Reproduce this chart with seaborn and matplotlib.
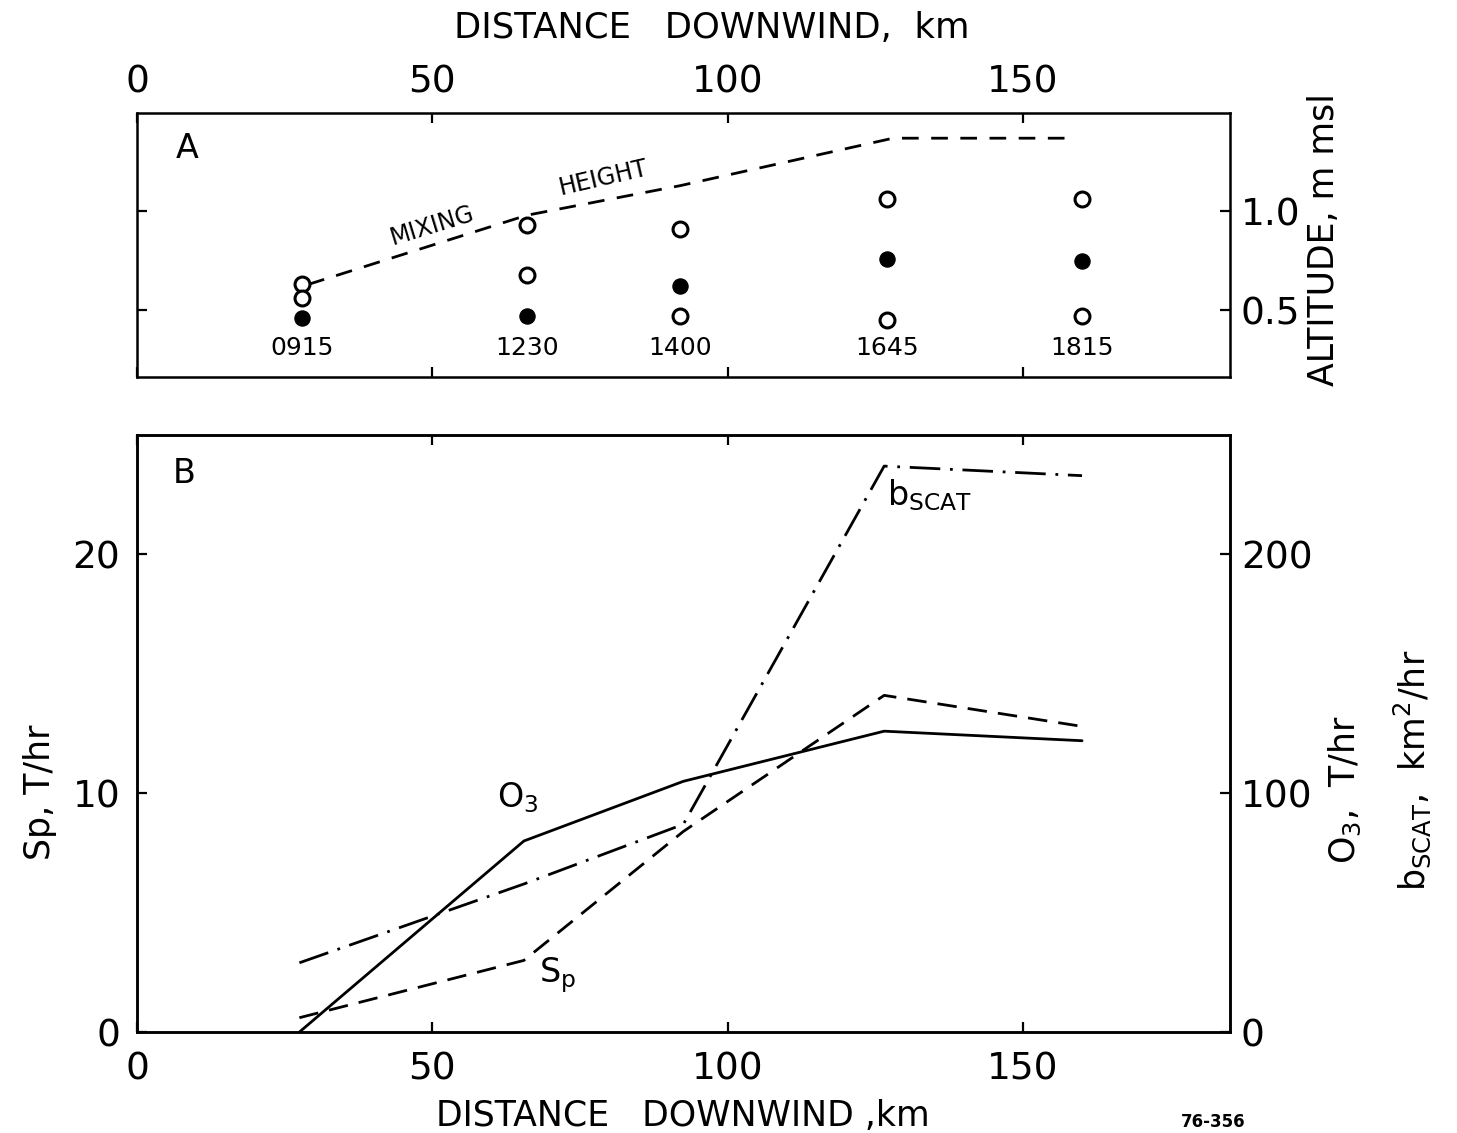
import numpy as np
import pandas as pd
import matplotlib
matplotlib.use("Agg")
import matplotlib.pyplot as plt
import seaborn as sns

# panel A: aircraft sampling flights
flight_times = ["0915", "1230", "1400", "1645", "1815"]
flight_km = [28, 66, 92, 127, 160]
open_upper = [0.63, 0.93, 0.91, 1.06, 1.06]
open_lower = [0.56, 0.68, 0.47, 0.45, 0.47]
filled_alt = [0.46, 0.47, 0.62, 0.76, 0.75]

mix_km = [29, 66, 92, 128, 158]
mix_alt = [0.63, 0.98, 1.13, 1.37, 1.37]

# panel B: fluxes downwind
dist_km = [27.5, 65.5, 92.5, 126.5, 160]
sp = [0.6, 3.0, 8.4, 14.1, 12.8]        # T/hr, left axis
o3 = [0, 80, 105, 126, 122]             # T/hr, right axis
bscat = [29, 62, 87, 237, 233]          # km2/hr, right axis

sns.set_style("ticks")
plt.rcParams['font.family'] = ['DejaVu Sans']
plt.rcParams['lines.scale_dashes'] = False
plt.rcParams['axes.linewidth'] = 1.8
plt.rcParams['xtick.major.width'] = 1.6
plt.rcParams['ytick.major.width'] = 1.6
plt.rcParams['mathtext.default'] = 'regular'
for key in ['text.color', 'axes.labelcolor', 'axes.edgecolor',
            'xtick.color', 'ytick.color']:
    plt.rcParams[key] = 'black'

fig = plt.figure(figsize=(14.57, 11.33), dpi=100)
axA = fig.add_axes([0.094, 0.667, 0.75, 0.2337])
axB = fig.add_axes([0.094, 0.0891, 0.75, 0.5269])
axB2 = axB.twinx()

lw = 2.0
ts = 27

# ---- panel A
mix = pd.DataFrame({"km": mix_km, "alt": mix_alt})
sns.lineplot(data=mix, x="km", y="alt", ax=axA, color="black", lw=lw,
             linestyle=(0, (12, 9)))
pts = pd.DataFrame({"km": flight_km * 3,
                    "alt": open_upper + open_lower + filled_alt,
                    "kind": ["open"] * 10 + ["filled"] * 5})
op = pts[pts.kind == "open"]
fl = pts[pts.kind == "filled"]
sns.scatterplot(data=op, x="km", y="alt", ax=axA, s=115, facecolor="white",
                edgecolor="black", linewidth=2.2, zorder=3)
sns.scatterplot(data=fl, x="km", y="alt", ax=axA, s=120, color="black",
                edgecolor="black", zorder=3)
for k, t in zip(flight_km, flight_times):
    axA.text(k, 0.31, t, ha="center", va="center", fontsize=18)

axA.text(50, 0.93, "MIXING", rotation=17, ha="center", va="center", fontsize=17)
axA.text(79, 1.17, "HEIGHT", rotation=13, ha="center", va="center", fontsize=17)
axA.text(8.5, 1.32, "A", ha="center", va="center", fontsize=24)

axA.set_xlim(0, 185)
axA.set_ylim(0.16, 1.5)
axA.set_xticks([0, 50, 100, 150])
axA.set_yticks([0.5, 1.0])
axA.set_yticklabels(["0.5", "1.0"])
axA.tick_params(axis="both", direction="in", length=7, labelsize=ts,
                top=True, bottom=True, left=True, right=True,
                labeltop=True, labelbottom=False, labelleft=False, labelright=True)
axA.tick_params(axis="x", pad=9)
axA.tick_params(axis="y", pad=8)
axA.set_xlabel("")
axA.set_ylabel("")
fig.text(712 / 1457, 1 - 28 / 1133, "DISTANCE   DOWNWIND,  km",
         ha="center", va="center", fontsize=25.5)
fig.text(0.909, 1 - 240 / 1133, "ALTITUDE, m msl", rotation=90,
         ha="center", va="center", fontsize=25)

# ---- panel B
sns.lineplot(x=dist_km, y=sp, ax=axB, color="black", lw=lw,
             linestyle=(0, (14, 8)))
sns.lineplot(x=dist_km, y=o3, ax=axB2, color="black", lw=lw,
             linestyle="-")
sns.lineplot(x=dist_km, y=bscat, ax=axB2, color="black", lw=lw,
             linestyle=(0, (22, 7, 2, 7)))

axB.set_xlim(0, 185)
axB.set_ylim(0, 25)
axB2.set_ylim(0, 250)
axB.set_xticks([0, 50, 100, 150])
axB.set_yticks([0, 10, 20])
axB2.set_yticks([0, 100, 200])
axB.tick_params(axis="both", direction="in", length=7, labelsize=ts,
                top=True, bottom=True, left=True, right=False)
axB.tick_params(axis="x", pad=14)
axB.tick_params(axis="y", pad=12)
axB2.tick_params(axis="y", direction="in", length=7, labelsize=ts, pad=8)

axB.text(61, 9.8, "O$_3$", ha="left", va="center", fontsize=24)
axB.text(68, 2.4, "S$_p$", ha="left", va="center", fontsize=24)
axB.text(127, 22.5, "b$_{SCAT}$", ha="left", va="center", fontsize=24)
axB.text(8, 23.4, "B", ha="center", va="center", fontsize=24)

axB.set_xlabel("DISTANCE   DOWNWIND ,km", fontsize=25, labelpad=8)
axB.set_ylabel("")
axB2.set_ylabel("")
fig.text(40 / 1457, 1 - 792 / 1133, "Sp, T/hr", rotation=90,
         ha="center", va="center", fontsize=25)
fig.text(1345 / 1457, 1 - 790 / 1133, "O$_3$,  T/hr", rotation=90,
         ha="center", va="center", fontsize=25)
fig.text(1412 / 1457, 1 - 770 / 1133, "b$_{SCAT}$,  km$^2$/hr", rotation=90,
         ha="center", va="center", fontsize=25)
fig.text(1213 / 1457, 1 - 1122 / 1133, "76-356", ha="center", va="center",
         fontsize=12, fontweight="bold")

fig.savefig("out.png", dpi=100)
